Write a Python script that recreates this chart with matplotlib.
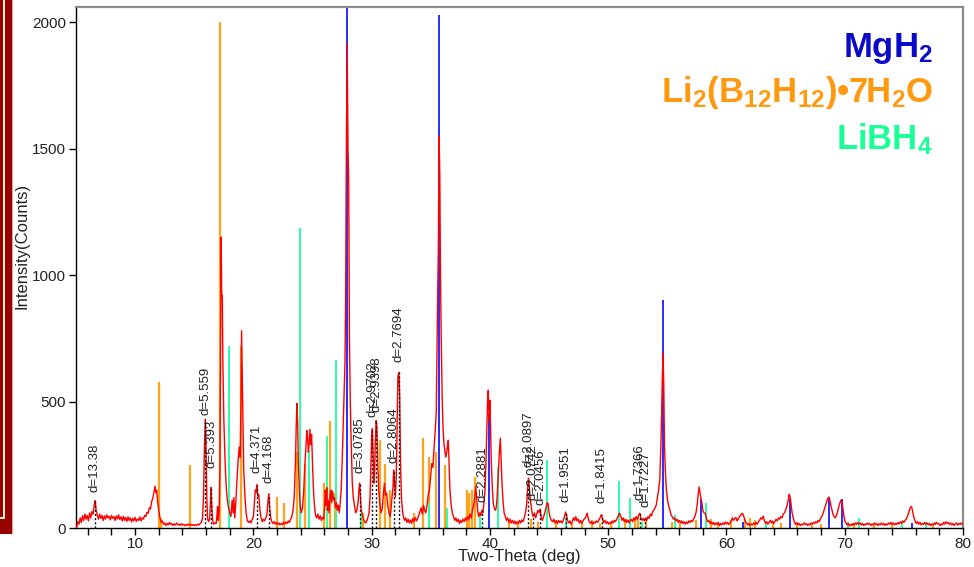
import matplotlib
matplotlib.use("Agg")
import matplotlib.pyplot as plt
from matplotlib.patches import Rectangle
from matplotlib.ticker import MultipleLocator

plt.rcParams['font.family'] = ['Liberation Sans', 'DejaVu Sans']
plt.rcParams['mathtext.fontset'] = 'custom'
plt.rcParams['mathtext.bf'] = 'Liberation Sans:bold'
plt.rcParams['mathtext.rm'] = 'Liberation Sans:bold'
plt.rcParams['mathtext.default'] = 'bf'

# ---------------- measured scan (2-theta, counts) ----------------
scan_a = [(5.05, 0), (5.15, 25), (5.25, 15), (5.35, 40), (5.45, 22), (5.55, 48), (5.65, 30), (5.75, 55),
          (5.85, 35), (5.95, 50), (6.05, 28), (6.15, 60), (6.25, 40), (6.35, 65), (6.45, 55), (6.55, 95),
          (6.62, 108), (6.7, 70), (6.8, 50), (6.9, 35), (7.0, 55), (7.1, 38), (7.2, 50), (7.3, 30),
          (7.4, 48), (7.5, 35), (7.6, 52), (7.7, 40), (7.8, 46), (7.9, 32), (8.0, 50), (8.1, 38),
          (8.2, 45), (8.3, 30), (8.4, 48), (8.5, 36), (8.6, 52), (8.7, 34), (8.8, 44), (8.9, 28),
          (9.0, 46), (9.1, 30), (9.2, 42), (9.3, 26), (9.4, 44), (9.5, 30), (9.6, 40), (9.7, 24),
          (9.8, 38), (9.9, 28), (10.0, 42), (10.1, 26), (10.2, 36), (10.3, 30), (10.4, 44), (10.5, 28),
          (10.6, 40), (10.7, 35), (10.8, 50), (10.9, 45), (11.0, 62), (11.1, 58), (11.2, 80), (11.3, 75),
          (11.4, 105), (11.5, 118), (11.6, 145), (11.68, 165), (11.75, 140), (11.82, 150), (11.9, 105),
          (12.0, 70), (12.1, 40), (12.2, 22), (12.3, 28), (12.4, 15)]
scan_b = [(12.5, 20), (12.6, 10), (12.7, 18), (12.8, 12), (12.9, 22), (13.0, 14), (13.1, 18), (13.2, 10),
          (13.3, 16), (13.4, 12), (13.5, 20), (13.6, 12), (13.7, 15), (13.8, 10), (13.9, 17), (14.0, 12),
          (14.1, 15), (14.2, 9), (14.3, 14), (14.4, 10), (14.5, 16), (14.6, 11), (14.7, 15), (14.8, 10),
          (14.9, 14), (15.0, 9), (15.1, 13), (15.2, 10), (15.3, 15), (15.4, 12), (15.5, 18), (15.6, 22),
          (15.7, 40), (15.78, 120), (15.85, 300), (15.93, 430), (16.0, 310), (16.06, 120), (16.12, 40),
          (16.2, 25), (16.3, 35), (16.38, 110), (16.42, 160), (16.47, 100), (16.55, 30), (16.65, 15),
          (16.75, 20), (16.85, 18), (16.92, 50), (16.97, 85), (17.03, 30), (17.1, 60), (17.17, 250),
          (17.22, 700), (17.27, 1150), (17.32, 920), (17.37, 920), (17.42, 650), (17.5, 430), (17.58, 300),
          (17.65, 210), (17.72, 150), (17.8, 110), (17.9, 80), (18.0, 60), (18.1, 45), (18.2, 110),
          (18.28, 60), (18.35, 120), (18.42, 40), (18.5, 90), (18.6, 180), (18.7, 260), (18.8, 320),
          (18.88, 280), (18.95, 500), (19.0, 780), (19.05, 620), (19.1, 460), (19.18, 230), (19.28, 130),
          (19.38, 60), (19.48, 30), (19.6, 22), (19.7, 28), (19.8, 20), (19.9, 35)]
scan_c = [(20.0, 45), (20.08, 100), (20.16, 150), (20.22, 140), (20.3, 172), (20.38, 125), (20.46, 130),
          (20.55, 70), (20.65, 40), (20.75, 25), (20.85, 35), (20.95, 28), (21.05, 40), (21.15, 55),
          (21.22, 100), (21.3, 135), (21.36, 90), (21.45, 45), (21.55, 25), (21.65, 18), (21.75, 25),
          (21.85, 15), (21.95, 22), (22.05, 14), (22.15, 20), (22.25, 12), (22.35, 18), (22.45, 14),
          (22.55, 22), (22.65, 15), (22.75, 24), (22.85, 18), (22.95, 28), (23.05, 22), (23.15, 35),
          (23.25, 45), (23.35, 70), (23.45, 120), (23.55, 250), (23.62, 400), (23.68, 493), (23.74, 420),
          (23.8, 255), (23.88, 160), (23.95, 90), (24.05, 60), (24.15, 80), (24.25, 140), (24.35, 250),
          (24.45, 330), (24.52, 385), (24.58, 360), (24.65, 300), (24.72, 340), (24.78, 390), (24.85, 330),
          (24.92, 370), (25.0, 250), (25.08, 150), (25.16, 90), (25.25, 50), (25.35, 40), (25.45, 55),
          (25.55, 35), (25.65, 48), (25.75, 30), (25.85, 42), (25.95, 35), (26.02, 80), (26.08, 150),
          (26.14, 90), (26.2, 160), (26.26, 70), (26.32, 110), (26.4, 60), (26.48, 130), (26.55, 150),
          (26.62, 100), (26.7, 145), (26.78, 110), (26.86, 120), (26.94, 80), (27.02, 100), (27.1, 70),
          (27.18, 90), (27.26, 60), (27.34, 100), (27.42, 150), (27.5, 255), (27.58, 380), (27.66, 517),
          (27.74, 650), (27.8, 900), (27.86, 1500), (27.93, 1915), (28.0, 1500), (28.06, 1365),
          (28.12, 742), (28.2, 480), (28.28, 320), (28.36, 180), (28.44, 122), (28.55, 90), (28.65, 60),
          (28.75, 70), (28.85, 100), (28.92, 150), (28.98, 177), (29.05, 120), (29.12, 70), (29.2, 55),
          (29.3, 35), (29.4, 25), (29.5, 20), (29.6, 30), (29.7, 45), (29.78, 60), (29.86, 120)]
scan_d = [(29.94, 250), (30.0, 360), (30.06, 393), (30.12, 300), (30.18, 177), (30.24, 210), (30.3, 330),
          (30.38, 425), (30.44, 400), (30.52, 250), (30.6, 150), (30.7, 90), (30.8, 60), (30.9, 80),
          (31.0, 140), (31.08, 177), (31.16, 130), (31.26, 138), (31.36, 90), (31.46, 60), (31.55, 45),
          (31.63, 70), (31.72, 122), (31.8, 160), (31.86, 229), (31.93, 180), (32.0, 122), (32.08, 200),
          (32.15, 400), (32.22, 600), (32.3, 615), (32.37, 520), (32.44, 255), (32.52, 120), (32.6, 70),
          (32.68, 45), (32.78, 30), (32.88, 40), (32.98, 22), (33.08, 35), (33.18, 20), (33.28, 32),
          (33.38, 18), (33.48, 38), (33.58, 25), (33.68, 42), (33.78, 28), (33.88, 36), (33.98, 50),
          (34.08, 65), (34.18, 80), (34.28, 55), (34.38, 90), (34.48, 70), (34.58, 60), (34.68, 90),
          (34.78, 130), (34.88, 150), (34.98, 200), (35.08, 255), (35.18, 240), (35.28, 320), (35.38, 390),
          (35.46, 455), (35.52, 700), (35.58, 913), (35.64, 1115), (35.7, 1550), (35.76, 1400),
          (35.82, 1000), (35.88, 755), (35.96, 520), (36.04, 387), (36.12, 330), (36.2, 300), (36.27, 280),
          (36.35, 300), (36.42, 330), (36.48, 347), (36.54, 260), (36.62, 150), (36.72, 90), (36.82, 60),
          (36.92, 45), (37.02, 30), (37.12, 40), (37.22, 25), (37.32, 35), (37.42, 18), (37.52, 30),
          (37.62, 22), (37.72, 35), (37.82, 25), (37.92, 40), (38.02, 30), (38.12, 45), (38.22, 35),
          (38.32, 55), (38.42, 40), (38.52, 70), (38.62, 90), (38.72, 120), (38.8, 163), (38.88, 120),
          (38.96, 70), (39.04, 45), (39.14, 60), (39.24, 50), (39.32, 70), (39.4, 60), (39.5, 100),
          (39.58, 150), (39.66, 255), (39.74, 400), (39.8, 500), (39.86, 545), (39.93, 420), (40.0, 505),
          (40.06, 380), (40.12, 255), (40.2, 160), (40.28, 100), (40.38, 75), (40.48, 70), (40.56, 90),
          (40.64, 150), (40.72, 229), (40.8, 300), (40.88, 355), (40.95, 260), (41.02, 177), (41.1, 110),
          (41.2, 60), (41.3, 45), (41.4, 30), (41.5, 40), (41.6, 22), (41.7, 35), (41.8, 20), (41.9, 30)]
scan_e = [(42.0, 18), (42.1, 28), (42.2, 15), (42.3, 25), (42.4, 18), (42.5, 30), (42.6, 20), (42.7, 32),
          (42.8, 25), (42.9, 40), (43.0, 60), (43.1, 90), (43.18, 150), (43.26, 197), (43.32, 170),
          (43.4, 120), (43.48, 90), (43.56, 60), (43.66, 45), (43.76, 60), (43.86, 40), (43.96, 55),
          (44.06, 70), (44.16, 60), (44.25, 75), (44.34, 40), (44.44, 30), (44.54, 45), (44.64, 60),
          (44.74, 80), (44.84, 100), (44.92, 95), (45.0, 60), (45.1, 40), (45.2, 30), (45.3, 25),
          (45.4, 35), (45.5, 20), (45.6, 28), (45.7, 18), (45.8, 30), (45.9, 22), (46.0, 28), (46.1, 20),
          (46.2, 30), (46.3, 45), (46.4, 63), (46.48, 50), (46.56, 30), (46.66, 20), (46.76, 28),
          (46.86, 15), (46.96, 25), (47.06, 40), (47.16, 30), (47.26, 45), (47.36, 28), (47.46, 35),
          (47.56, 20), (47.66, 30), (47.76, 18), (47.86, 28), (47.96, 35), (48.06, 40), (48.16, 50),
          (48.22, 58), (48.3, 40), (48.4, 25), (48.5, 18), (48.6, 26), (48.7, 15), (48.8, 24), (48.9, 20),
          (49.0, 28), (49.1, 22), (49.2, 30), (49.3, 40), (49.43, 53), (49.52, 35), (49.62, 22),
          (49.72, 30), (49.82, 18), (49.92, 25), (50.02, 15), (50.12, 22), (50.22, 18), (50.32, 28),
          (50.42, 20), (50.52, 30), (50.62, 25), (50.72, 35), (50.82, 45), (50.9, 55), (50.98, 58),
          (51.06, 45), (51.16, 30), (51.26, 40), (51.36, 25), (51.46, 35), (51.56, 22), (51.66, 32),
          (51.76, 20), (51.86, 28), (51.96, 35), (52.06, 25), (52.16, 40), (52.26, 30), (52.36, 45),
          (52.46, 35), (52.56, 50), (52.67, 58), (52.76, 40), (52.86, 30), (52.96, 38), (53.06, 28),
          (53.16, 40), (53.26, 30), (53.36, 45), (53.46, 38), (53.56, 55), (53.66, 48), (53.76, 65),
          (53.86, 70), (53.96, 80), (54.06, 90), (54.16, 120), (54.26, 150), (54.36, 190), (54.45, 320),
          (54.52, 455), (54.58, 600), (54.64, 690), (54.7, 560), (54.76, 320), (54.84, 220), (54.92, 150),
          (55.02, 110), (55.12, 85), (55.22, 70), (55.32, 50), (55.42, 45), (55.52, 35), (55.62, 40),
          (55.72, 28), (55.82, 35), (55.92, 22)]
scan_f = [(56.02, 30), (56.12, 20), (56.22, 28), (56.32, 18), (56.42, 25), (56.52, 15), (56.62, 24),
          (56.72, 18), (56.82, 28), (56.92, 22), (57.02, 30), (57.12, 25), (57.22, 35), (57.32, 45),
          (57.42, 60), (57.52, 90), (57.6, 130), (57.69, 162), (57.76, 140), (57.84, 118), (57.92, 100),
          (58.0, 70), (58.1, 60), (58.2, 58), (58.3, 40), (58.4, 25), (58.5, 30), (58.6, 18), (58.7, 25),
          (58.8, 15), (58.9, 22), (59.0, 12), (59.1, 20), (59.2, 14), (59.3, 22), (59.4, 10), (59.5, 18),
          (59.6, 12), (59.7, 20), (59.8, 14), (59.9, 24), (60.0, 16), (60.1, 22), (60.2, 14), (60.3, 20),
          (60.4, 28), (60.5, 40), (60.6, 30), (60.7, 38), (60.8, 42), (60.9, 28), (61.0, 35), (61.1, 45),
          (61.2, 50), (61.3, 58), (61.4, 55), (61.5, 40), (61.6, 25), (61.7, 20), (61.8, 12), (61.9, 18),
          (62.0, 10), (62.1, 16), (62.2, 12), (62.3, 20), (62.4, 14), (62.5, 22), (62.6, 15), (62.7, 25),
          (62.8, 30), (62.9, 40), (63.0, 35), (63.1, 47), (63.2, 30), (63.3, 18), (63.4, 25), (63.5, 15),
          (63.6, 22), (63.7, 30), (63.8, 20), (63.9, 28), (64.0, 18), (64.1, 25), (64.2, 35), (64.3, 28),
          (64.4, 40), (64.5, 35), (64.6, 45), (64.7, 40), (64.8, 55), (64.9, 60), (65.0, 70), (65.1, 85),
          (65.2, 105), (65.3, 133), (65.38, 125), (65.46, 95), (65.55, 60), (65.65, 40), (65.75, 22),
          (65.85, 15), (65.95, 20), (66.05, 12), (66.15, 18), (66.25, 10), (66.35, 15), (66.45, 12),
          (66.55, 20), (66.65, 14), (66.75, 18), (66.85, 10), (66.95, 16), (67.05, 12), (67.15, 20),
          (67.25, 15), (67.35, 22), (67.45, 18), (67.55, 25), (67.65, 20), (67.75, 30), (67.85, 25),
          (67.95, 38)]
scan_g = [(68.05, 45), (68.15, 55), (68.25, 70), (68.35, 85), (68.45, 100), (68.55, 115), (68.65, 122),
          (68.72, 115), (68.8, 95), (68.9, 75), (69.0, 55), (69.1, 45), (69.2, 40), (69.3, 50), (69.4, 65),
          (69.5, 85), (69.6, 100), (69.68, 110), (69.76, 105), (69.84, 80), (69.92, 50), (70.0, 30),
          (70.1, 20), (70.2, 12), (70.3, 18), (70.4, 8), (70.5, 15), (70.6, 10), (70.7, 18), (70.8, 12),
          (70.9, 20), (71.0, 14), (71.1, 22), (71.2, 15), (71.3, 20), (71.4, 12), (71.5, 18), (71.6, 10),
          (71.7, 16), (71.8, 12), (71.9, 20), (72.0, 14), (72.1, 18), (72.2, 10), (72.3, 16), (72.4, 12),
          (72.5, 20), (72.6, 14), (72.7, 18), (72.8, 10), (72.9, 17), (73.0, 12), (73.1, 20), (73.2, 13),
          (73.3, 18), (73.4, 10), (73.5, 16), (73.6, 12), (73.7, 20), (73.8, 15), (73.9, 22), (74.0, 14),
          (74.1, 20), (74.2, 12), (74.3, 18), (74.4, 14), (74.5, 22), (74.6, 16), (74.7, 25), (74.8, 18),
          (74.9, 28), (75.0, 22), (75.1, 30), (75.2, 35), (75.3, 45), (75.4, 60), (75.5, 75), (75.6, 85),
          (75.68, 80), (75.76, 60), (75.86, 40), (75.96, 25), (76.06, 18), (76.16, 25), (76.26, 15),
          (76.36, 22), (76.46, 12), (76.56, 18), (76.66, 14), (76.76, 22), (76.86, 15), (76.96, 20),
          (77.06, 12), (77.16, 18), (77.26, 10), (77.36, 16), (77.46, 12), (77.56, 20), (77.66, 14),
          (77.76, 22), (77.86, 16), (77.96, 18), (78.06, 10), (78.16, 16), (78.26, 12), (78.36, 22),
          (78.46, 15), (78.56, 25), (78.66, 18), (78.76, 22), (78.86, 14), (78.96, 20), (79.06, 12),
          (79.16, 18), (79.26, 10), (79.36, 16), (79.46, 20), (79.56, 12), (79.66, 18), (79.76, 14),
          (79.86, 20), (79.96, 15)]

# ---------------- reference stick patterns ----------------
mgh2_2theta = [27.93, 35.71, 39.93, 54.64, 57.82, 61.38, 65.35, 68.7, 69.8, 75.7]
mgh2_int = [2100, 2030, 450, 900, 115, 25, 115, 122, 114, 20]

li2b12_2theta = [12.04, 12.2, 14.63, 17.17, 18.95, 21.96, 22.6, 23.65, 24.4, 25.95, 26.47, 26.9, 29.3,
                 30.7, 31.1, 31.55, 33.6, 34.35, 34.86, 35.45, 36.19, 38.02, 38.25, 38.5, 38.72, 41.6,
                 42.4, 43.5, 44.1, 45.6, 46.9, 47.8, 48.6, 49.3, 50.2, 51.4, 52.3, 52.5, 53.2, 55.4,
                 56.1, 57.4, 58.7, 59.3, 60.4, 61.6, 62.0, 62.4, 63.9, 64.6, 66.0, 67.2, 68.0, 70.8,
                 72.5, 74.0, 77.5]
li2b12_int = [577, 40, 250, 2000, 720, 122, 100, 300, 255, 177, 425, 138, 60,
              347, 255, 150, 60, 355, 280, 300, 250, 150, 140, 150, 200, 30,
              25, 35, 25, 30, 20, 25, 30, 20, 25, 35, 40, 45, 30, 25,
              20, 30, 35, 25, 30, 35, 40, 30, 25, 20, 25, 20, 15, 20,
              15, 15, 15]

libh4_2theta = [17.93, 23.93, 24.72, 26.19, 26.97, 29.12, 34.85, 36.38, 39.15, 40.64, 44.8, 46.47,
                50.92, 51.88, 52.9, 55.63, 58.31, 63.38, 70.3, 71.21, 74.88, 76.9]
libh4_int = [720, 1185, 307, 363, 663, 58, 100, 80, 60, 240, 268, 45,
             185, 120, 25, 50, 100, 20, 25, 40, 20, 24]

# ---------------- indexed peaks (d-spacings) ----------------
peak_d = ["13.38", "5.559", "5.393", "4.371", "4.168", "3.0785", "2.9702", "2.9398", "2.8064",
          "2.7694", "2.2881", "2.0897", "2.0742", "2.0456", "1.9551", "1.8415", "1.7366", "1.7227"]
peak_2theta = [6.60, 15.93, 16.42, 20.30, 21.30, 28.98, 30.06, 30.38, 31.86,
               32.30, 39.35, 43.26, 43.60, 44.25, 46.40, 49.45, 52.66, 53.12]
peak_counts = [105, 430, 160, 170, 135, 177, 393, 425, 229,
               615, 70, 197, 50, 75, 63, 53, 58, 40]

# label anchoring heights (layout, counts)
label_base = [142, 446, 237, 217, 178, 217, 438, 458, 257,
              656, 103, 241, 110, 91, 103, 99, 110, 83]

# ---------------- figure ----------------
W, H = 974, 567
fig = plt.figure(figsize=(W / 100, H / 100), dpi=100)
fig.patch.set_facecolor('white')

# slide decoration at left edge
fig.add_artist(Rectangle((0, 1 - 534 / H), 12 / W, 534 / H, transform=fig.transFigure,
                         facecolor='#990000', edgecolor='none', zorder=0))
fig.add_artist(Rectangle((3 / W, 1 - 518 / H), 1.6 / W, 518 / H, transform=fig.transFigure,
                         facecolor='#fff5c8', edgecolor='none', zorder=1))
fig.add_artist(Rectangle((0, 1 - 519 / H), 4.6 / W, 1.6 / H, transform=fig.transFigure,
                         facecolor='#fff5c8', edgecolor='none', zorder=1))
fig.add_artist(Rectangle((11.5 / W, 1 - 534 / H), 1 / W, 534 / H, transform=fig.transFigure,
                         facecolor='#e8a0a0', edgecolor='none', zorder=1))

ax = fig.add_axes([76 / W, 1 - 528 / H, 887 / W, 521 / H])
ax.set_xlim(5, 80)
ax.set_ylim(0, 2060)

ax.vlines(li2b12_2theta, 0, li2b12_int, colors='#ffa31a', linewidth=1.6, zorder=2)
ax.vlines(libh4_2theta, 0, libh4_int, colors='#2bffa8', linewidth=1.4, zorder=2)
ax.vlines(mgh2_2theta, 0, mgh2_int, colors='#2a2aff', linewidth=1.4, zorder=2)

scan = scan_a + scan_b + scan_c + scan_d + scan_e + scan_f + scan_g
sx = [p[0] for p in scan]
sy = [p[1] for p in scan]
ax.plot(sx, sy, color='#ff0000', linewidth=1.0, zorder=3)

ax.vlines(peak_2theta, 0, peak_counts, colors='#111111', linewidth=1.0,
          linestyles=(0, (1.5, 1.5)), zorder=4)
for d, t, b in zip(peak_d, peak_2theta, label_base):
    ax.text(t, b, "d=" + d, rotation=90, ha='center', va='bottom', fontsize=9.5,
            color='#222222', zorder=5)

# axes styling
for s in ('left', 'bottom'):
    ax.spines[s].set_color('#000000')
    ax.spines[s].set_linewidth(1.0)
for s in ('top', 'right'):
    ax.spines[s].set_color('#8a8a8a')
    ax.spines[s].set_linewidth(1.6)

ax.xaxis.set_major_locator(MultipleLocator(10))
ax.xaxis.set_minor_locator(MultipleLocator(2))
ax.yaxis.set_major_locator(MultipleLocator(500))
ax.tick_params(axis='both', which='both', direction='out', length=5, width=1, color='#000000',
               labelsize=11, labelcolor='#222222')
ax.tick_params(axis='x', which='both', pad=1.5, top=False)
ax.tick_params(axis='y', pad=2, right=False)

ax.set_xlabel('Two-Theta (deg)', fontsize=12, color='#222222')
ax.xaxis.set_label_coords(0.5, (528 - 549) / 521)
# y label placed in figure coordinates so it sits clear of the slide border
fig.text(22 / W, 1 - 246 / H, 'Intensity(Counts)', fontsize=12, color='#222222',
         rotation=90, ha='center', va='center', zorder=10)

# phase legend text
fig.text(933 / W, 1 - 57 / H, r'MgH$_2$', color='#0a0ac8', fontsize=25, fontweight='bold',
         ha='right', va='baseline')
fig.text(933 / W, 1 - 102 / H, r'Li$_2$(B$_{12}$H$_{12}$)•7H$_2$O', color='#ff9a10', fontsize=25,
         fontweight='bold', ha='right', va='baseline')
fig.text(933 / W, 1 - 149 / H, r'LiBH$_4$', color='#1aff96', fontsize=25, fontweight='bold',
         ha='right', va='baseline')

fig.savefig('out.png', dpi=100)
